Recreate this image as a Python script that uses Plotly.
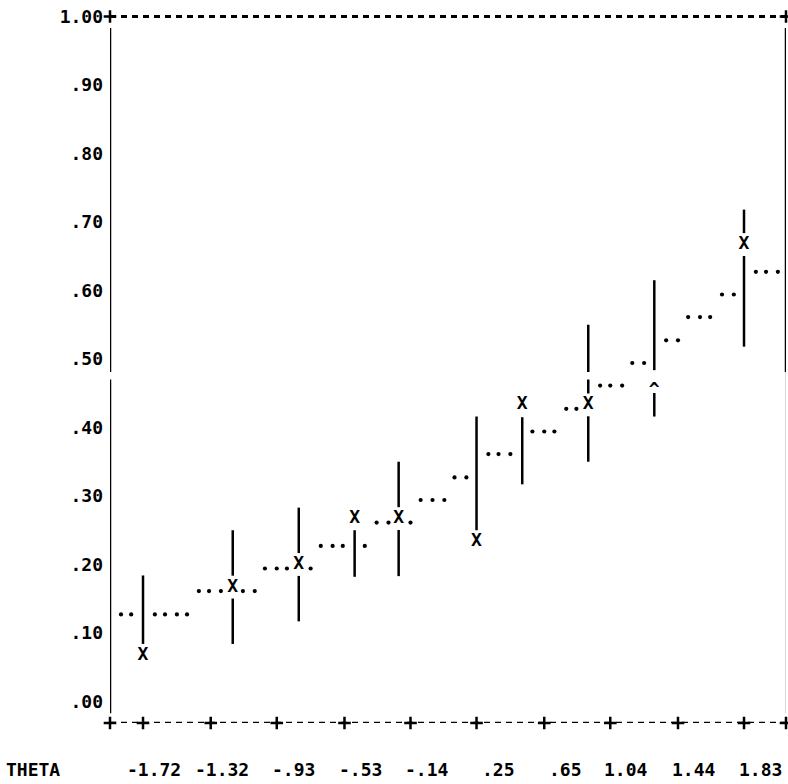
import plotly.graph_objects as go

# ---------------- data ----------------
theta_ticks = [-1.72, -1.32, -0.93, -0.53, -0.14, 0.25, 0.65, 1.04, 1.44, 1.83]
theta_tick_labels = ["-1.72", "-1.32", "-.93", "-.53", "-.14", ".25", ".65", "1.04", "1.44", "1.83"]

p_ticks = [0.0, 0.1, 0.2, 0.3, 0.4, 0.5, 0.6, 0.7, 0.8, 0.9, 1.0]
p_tick_labels = [".00", ".10", ".20", ".30", ".40", ".50", ".60", ".70", ".80", ".90", "1.00"]

# ability groups: observed proportion and its interval bar
group_theta = [-1.72, -1.19, -0.80, -0.47, -0.21, 0.25, 0.52, 0.91, 1.30, 1.83]
observed_p = [0.067, 0.167, 0.200, 0.267, 0.267, 0.233, 0.433, 0.433, 0.467, 0.667]
observed_mark = ["X", "X", "X", "X", "X", "X", "X", "X", "^", "X"]
bar_low = [0.084, 0.084, 0.117, 0.182, 0.183, 0.250, 0.317, 0.350, 0.416, 0.518]
bar_high = [0.184, 0.250, 0.283, 0.250, 0.350, 0.416, 0.415, 0.550, 0.615, 0.718]

# printed (dotted) fitted item characteristic curve
icc_theta = [-1.85, -1.79, -1.65, -1.59, -1.52, -1.46, -1.39, -1.33, -1.26, -1.13,
             -1.06, -1.00, -0.93, -0.87, -0.73, -0.67, -0.60, -0.54, -0.41, -0.34,
             -0.27, -0.14, -0.08, -0.01, 0.06, 0.12, 0.19, 0.32, 0.38, 0.45,
             0.58, 0.65, 0.71, 0.78, 0.84, 0.98, 1.04, 1.11, 1.17, 1.24,
             1.37, 1.44, 1.50, 1.57, 1.63, 1.70, 1.77, 1.90, 1.96, 2.03]
icc_p = [0.133, 0.133, 0.133, 0.133, 0.133, 0.133, 0.167, 0.167, 0.167, 0.167,
         0.167, 0.200, 0.200, 0.200, 0.200, 0.233, 0.233, 0.233, 0.233, 0.267,
         0.267, 0.267, 0.300, 0.300, 0.300, 0.333, 0.333, 0.367, 0.367, 0.367,
         0.400, 0.400, 0.400, 0.433, 0.433, 0.467, 0.467, 0.467, 0.500, 0.500,
         0.533, 0.533, 0.567, 0.567, 0.567, 0.600, 0.600, 0.633, 0.633, 0.633]

# ---------------- layout / style constants ----------------
W, H = 788, 784
ML, MR, MT, MB = 110, 2, 14, 61
X_RANGE = [-1.915, 2.078]
Y_RANGE = [-0.0314, 1.0036]
PX_PER_P = (H - MT - MB) / (Y_RANGE[1] - Y_RANGE[0])
ROW_HALF = 1 / 60          # half of a printer row
DOT_DROP_PX = 4            # printed '.' sits on the baseline of its row
CARET_DROP_PX = 9
PRINT_GAP = (0.470, 0.481)  # faint row on the printout
AXIS_TOP, AXIS_BOTTOM = 0.983, -0.017
BASE_LINE = -0.0314
TOP_LINE = 1.0
FONT = dict(family="DejaVu Sans Mono", size=18, color="black", weight="bold")
INK = "black"


def rule(x, lo, hi, gaps):
    """vertical printed rule from lo to hi with gaps removed"""
    segs = [(lo, hi)]
    for g0, g1 in gaps:
        new = []
        for a, b in segs:
            if g1 <= a or g0 >= b:
                new.append((a, b))
                continue
            if g0 > a:
                new.append((a, g0))
            if g1 < b:
                new.append((g1, b))
        segs = new
    xs, ys = [], []
    for a, b in segs:
        xs += [x, x, None]
        ys += [a, b, None]
    return xs, ys


fig = go.Figure()

# frame: top and bottom dashed rules
fig.add_trace(go.Scatter(x=[X_RANGE[0], X_RANGE[1]], y=[TOP_LINE, TOP_LINE], mode="lines",
                         line=dict(color=INK, width=3, dash="6px,5px"),
                         cliponaxis=False, hoverinfo="skip", showlegend=False))
fig.add_trace(go.Scatter(x=[X_RANGE[0], X_RANGE[1]], y=[BASE_LINE, BASE_LINE], mode="lines",
                         line=dict(color=INK, width=2.5, dash="6px,5px"),
                         cliponaxis=False, hoverinfo="skip", showlegend=False))

# left axis (with the faint printer row)
lx, ly = rule(X_RANGE[0], AXIS_BOTTOM, AXIS_TOP, [PRINT_GAP])
fig.add_trace(go.Scatter(x=lx, y=ly, mode="lines", line=dict(color=INK, width=2.5),
                         cliponaxis=False, hoverinfo="skip", showlegend=False))
# right axis: dark upper part, faint lower part
fig.add_trace(go.Scatter(x=[X_RANGE[1], X_RANGE[1]], y=[AXIS_TOP, PRINT_GAP[1]], mode="lines",
                         line=dict(color=INK, width=2.5), cliponaxis=False,
                         hoverinfo="skip", showlegend=False))
fig.add_trace(go.Scatter(x=[X_RANGE[1], X_RANGE[1]], y=[PRINT_GAP[1], AXIS_BOTTOM], mode="lines",
                         line=dict(color="#c8c8c8", width=1.5), cliponaxis=False,
                         hoverinfo="skip", showlegend=False))

# '+' marks on the rules
plus_x = [X_RANGE[0]] + theta_ticks + [X_RANGE[1], X_RANGE[0], X_RANGE[1]]
plus_y = [BASE_LINE] * (len(theta_ticks) + 2) + [TOP_LINE, TOP_LINE]
fig.add_trace(go.Scatter(x=plus_x, y=plus_y, mode="markers",
                         marker=dict(symbol="cross-thin", size=9, line=dict(color=INK, width=2.5)),
                         cliponaxis=False, hoverinfo="skip", showlegend=False))

# interval bars, broken where the observed mark is printed
bx, by = [], []
for t, lo, hi, ob in zip(group_theta, bar_low, bar_high, observed_p):
    gaps = [PRINT_GAP]
    if lo < ob < hi:
        gaps.append((ob - ROW_HALF, ob + ROW_HALF))
    xs, ys = rule(t, lo, hi, gaps)
    bx += xs
    by += ys
fig.add_trace(go.Scatter(x=bx, y=by, mode="lines", line=dict(color=INK, width=2.5),
                         cliponaxis=False, hoverinfo="skip", showlegend=False))

# fitted curve dots
fig.add_trace(go.Scatter(x=icc_theta, y=[p - DOT_DROP_PX / PX_PER_P for p in icc_p],
                         mode="markers", marker=dict(symbol="circle", size=4.2, color=INK),
                         cliponaxis=False, name="fitted", showlegend=False))

# observed marks
xs_x = [t for t, m in zip(group_theta, observed_mark) if m == "X"]
ys_x = [p for p, m in zip(observed_p, observed_mark) if m == "X"]
fig.add_trace(go.Scatter(x=xs_x, y=ys_x, mode="text", text=["X"] * len(xs_x),
                         textposition="middle center", textfont=FONT,
                         cliponaxis=False, name="observed", showlegend=False))
xs_c = [t for t, m in zip(group_theta, observed_mark) if m == "^"]
ys_c = [p - CARET_DROP_PX / PX_PER_P for p, m in zip(observed_p, observed_mark) if m == "^"]
fig.add_trace(go.Scatter(x=xs_c, y=ys_c, mode="text", text=["^"] * len(xs_c),
                         textposition="middle center", textfont=FONT,
                         cliponaxis=False, showlegend=False))

# x labels printed under the axis, right-justified in their fields
annotations = []
for t, lab in zip(theta_ticks, theta_tick_labels):
    annotations.append(dict(x=t, xref="x", y=0, yref="paper", text=lab, showarrow=False,
                            xanchor="right", yanchor="middle", xshift=40, yshift=-46,
                            font=FONT))
annotations.append(dict(x=0, xref="paper", y=0, yref="paper", text="THETA", showarrow=False,
                        xanchor="left", yanchor="middle", xshift=-106, yshift=-46, font=FONT))

fig.update_layout(
    width=W, height=H,
    margin=dict(l=ML, r=MR, t=MT, b=MB, pad=0),
    paper_bgcolor="white", plot_bgcolor="white",
    showlegend=False,
    annotations=annotations,
    xaxis=dict(range=X_RANGE, showgrid=False, zeroline=False, showline=False,
               showticklabels=False, ticks=""),
    yaxis=dict(range=Y_RANGE, showgrid=False, zeroline=False, showline=False,
               tickmode="array", tickvals=p_ticks, ticktext=p_tick_labels,
               ticks="", tickfont=FONT, ticklabelstandoff=6),
)

fig.write_html("out.html", config={"displayModeBar": False},
               post_script="document.body.style.margin='0';document.body.style.overflow='hidden';")
